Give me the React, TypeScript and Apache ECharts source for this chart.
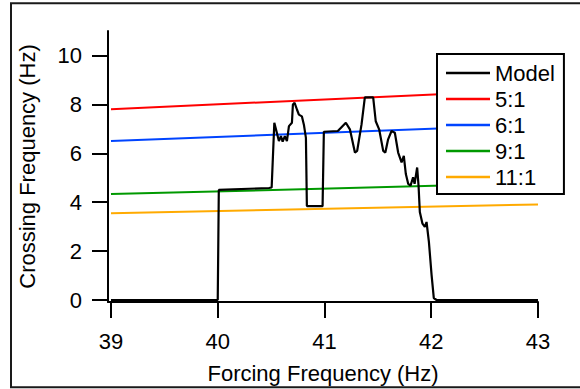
import React, { useEffect, useRef } from 'react';
import * as echarts from 'echarts';

const xTicks = [39, 40, 41, 42, 43];
const yTicks = [0, 2, 4, 6, 8, 10];

const modelForcing = [
  39, 40.0, 40.01, 40.48, 40.505, 40.53, 40.573, 40.592, 40.608, 40.629, 40.648, 40.667, 40.695,
  40.704, 40.72, 40.742, 40.76, 40.788, 40.807, 40.826, 40.835, 40.982, 40.994, 41.125, 41.2,
  41.238, 41.285, 41.306, 41.347, 41.378, 41.456, 41.48, 41.512, 41.55, 41.57, 41.596, 41.628,
  41.659, 41.69, 41.722, 41.743, 41.762, 41.784, 41.806, 41.83, 41.844, 41.868, 41.881, 41.893,
  41.918, 41.94, 41.956, 41.978, 42.003, 42.024, 42.05, 43,
];
const modelCrossing = [
  0, 0, 4.5, 4.58, 4.6, 7.25, 6.5, 6.7, 6.48, 6.7, 6.5, 7.11, 7.25,
  7.99, 8.06, 7.79, 7.58, 7.51, 7.17, 6.63, 3.84, 3.84, 6.88, 6.91, 7.25,
  6.98, 6.03, 6.1, 7.18, 8.29, 8.29, 7.31, 6.98, 6.1, 6.03, 6.57, 6.91,
  6.84, 6.03, 5.63, 5.89, 5.15, 4.75, 4.68, 5.02, 4.75, 5.42, 4.68, 3.6,
  3.12, 2.99, 3.19, 2.38, 1.03, 0.08, 0, 0,
];

const ratioForcing = [39, 43];
const ratio5to1 = [7.8, 8.6];
const ratio6to1 = [6.5, 7.17];
const ratio9to1 = [4.33, 4.78];
const ratio11to1 = [3.55, 3.91];

const seriesNames = ['Model', '5:1', '6:1', '9:1', '11:1'];
const seriesColors = ['#000000', '#ff0000', '#0044ff', '#009900', '#ffaa00'];

const FONT = 'Liberation Sans, Arial, sans-serif';

export default function App() {
  const ref = useRef<HTMLDivElement>(null);
  useEffect(() => {
    if (!ref.current) return;
    const chart = echarts.init(ref.current, null, { renderer: 'svg' });
    const zip = (xs: number[], ys: number[]) => xs.map((x, i) => [x, ys[i]]);
    const datasets = [
      zip(modelForcing, modelCrossing),
      zip(ratioForcing, ratio5to1),
      zip(ratioForcing, ratio6to1),
      zip(ratioForcing, ratio9to1),
      zip(ratioForcing, ratio11to1),
    ];
    chart.setOption({
      animation: false,
      backgroundColor: '#ffffff',
      textStyle: { fontFamily: FONT, color: '#000' },
      grid: { left: 108, right: 42, top: 31, bottom: 85, containLabel: false },
      graphic: [
        {
          type: 'rect',
          shape: { x: 11, y: 3.3, width: 620, height: 384 },
          style: { fill: 'none', stroke: '#1a1a1a', lineWidth: 2 },
          silent: true,
        },
      ],
      xAxis: {
        type: 'value',
        min: 38.972,
        max: 43,
        name: 'Forcing Frequency (Hz)',
        nameLocation: 'middle',
        nameGap: 60,
        nameTextStyle: { fontSize: 22, fontFamily: FONT, color: '#000' },
        axisLine: { show: true, onZero: false, lineStyle: { color: '#000', width: 2 } },
        axisTick: { show: true, length: 16, lineStyle: { color: '#000', width: 2 }, customValues: xTicks },
        axisLabel: { fontSize: 22, fontFamily: FONT, color: '#000', margin: 28, customValues: xTicks },
        splitLine: { show: false },
      },
      yAxis: {
        type: 'value',
        min: -0.081,
        max: 11,
        name: 'Crossing Frequency (Hz)',
        nameLocation: 'middle',
        nameGap: 70,
        nameTextStyle: { fontSize: 22, fontFamily: FONT, color: '#000' },
        axisLine: { show: true, onZero: false, lineStyle: { color: '#000', width: 2 } },
        axisTick: { show: true, length: 16, lineStyle: { color: '#000', width: 2 }, customValues: yTicks },
        axisLabel: { fontSize: 22, fontFamily: FONT, color: '#000', margin: 26, customValues: yTicks },
        splitLine: { show: false },
      },
      legend: {
        orient: 'vertical',
        left: 437,
        top: 54,
        data: seriesNames.map((n) => ({ name: n, icon: 'rect' })),
        itemWidth: 44,
        itemHeight: 2.5,
        itemGap: 4,
        padding: [8, 9, 6, 9],
        backgroundColor: '#ffffff',
        borderColor: '#000',
        borderWidth: 2,
        borderRadius: 0,
        textStyle: { fontSize: 22, fontFamily: FONT, color: '#000', lineHeight: 22 },
      },
      series: datasets.map((d, i) => ({
        name: seriesNames[i],
        type: 'line',
        data: d,
        symbol: 'none',
        showSymbol: false,
        color: seriesColors[i],
        itemStyle: { color: seriesColors[i] },
        lineStyle: { color: seriesColors[i], width: i === 0 ? 2.2 : 2 },
        z: i === 0 ? 3 : 2,
      })),
    });
    return () => chart.dispose();
  }, []);
  return (
    <div
      ref={ref}
      style={{ position: 'fixed', left: 0, top: 0, width: 580, height: 389, background: '#fff' }}
    />
  );
}
